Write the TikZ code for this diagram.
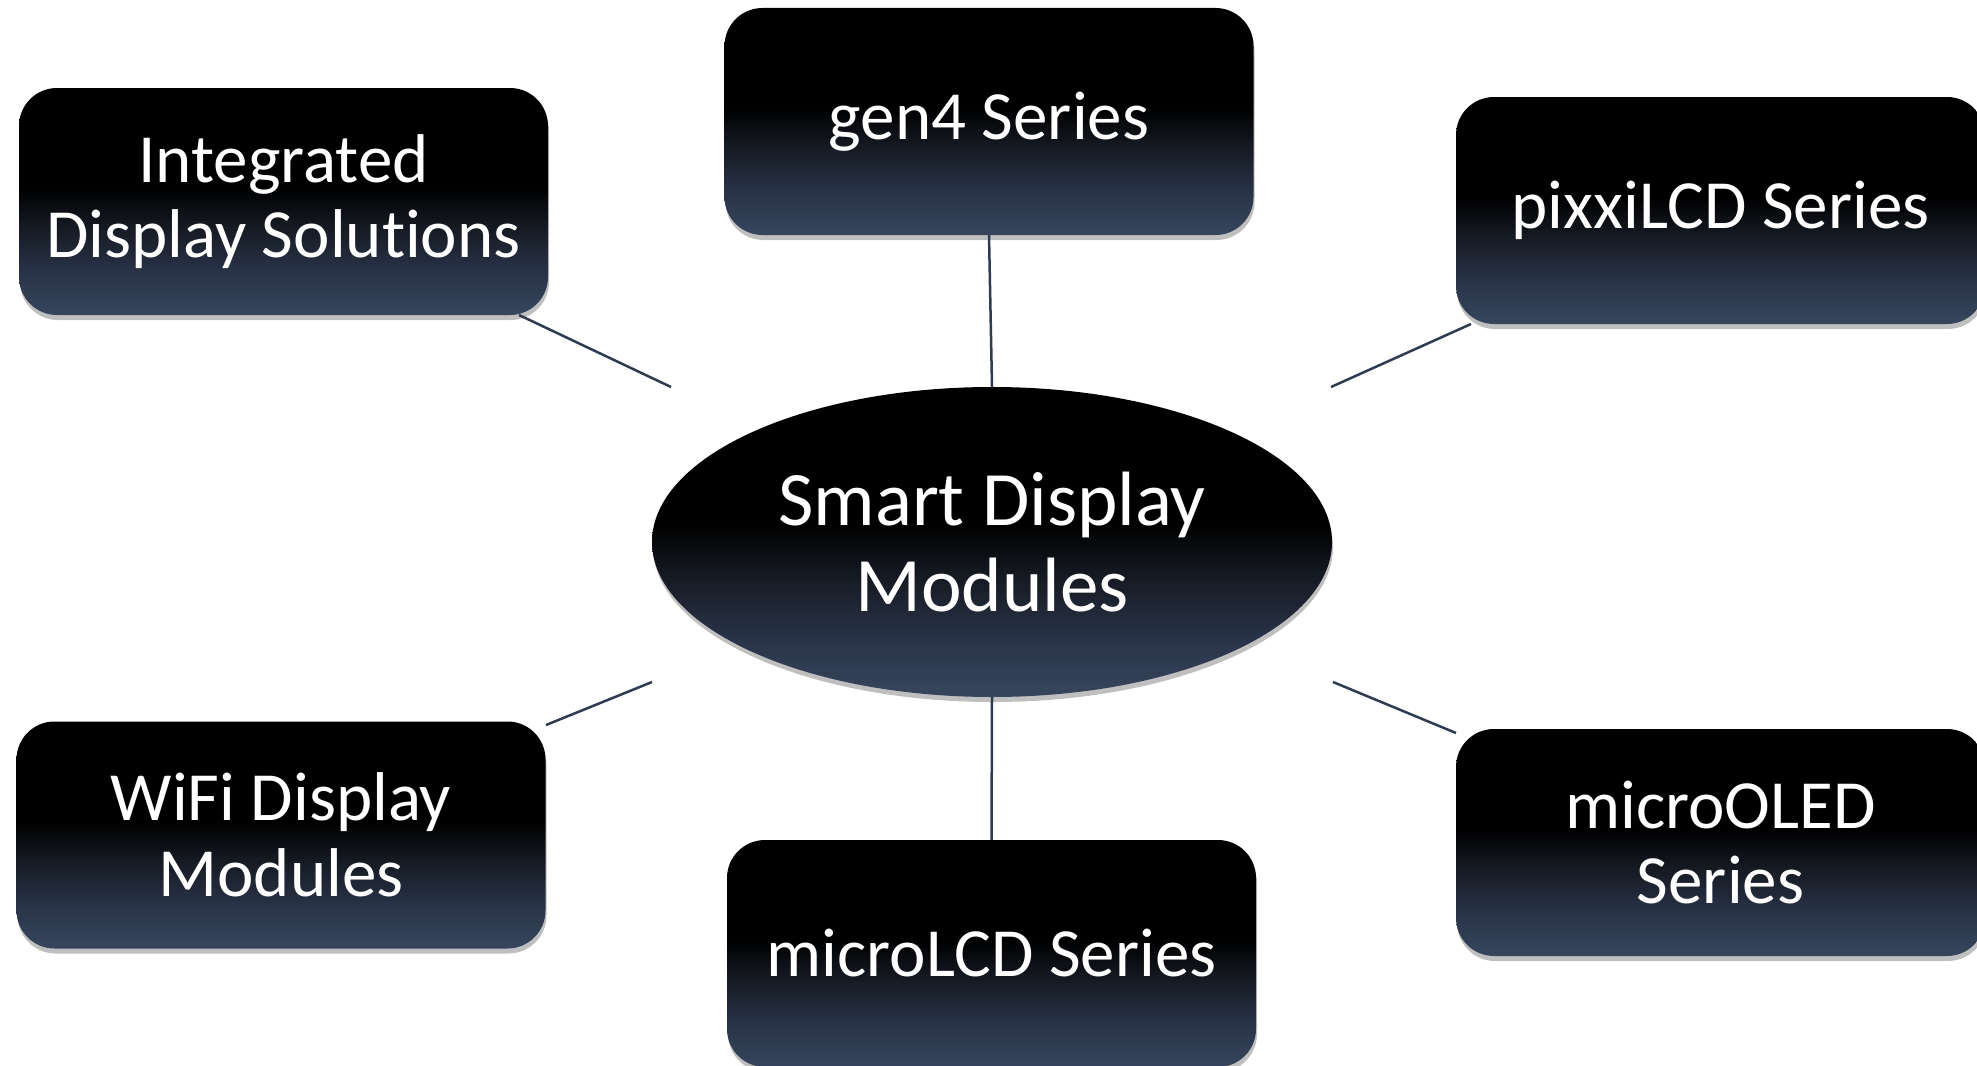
\documentclass[tikz,border=0pt]{standalone}
\usepackage{fontspec}
\setmainfont{Carlito}[Ligatures=NoCommon]
\usetikzlibrary{shapes.geometric,shadows}
\definecolor{navybot}{HTML}{37465E}
\definecolor{navymid}{HTML}{283246}
\definecolor{navydark}{HTML}{141820}
\definecolor{linecol}{HTML}{2E3B50}
\pgfdeclareverticalshading{boxshade}{100bp}{color(0bp)=(navybot); color(25bp)=(navybot); color(35bp)=(navymid); color(45bp)=(navydark); color(53bp)=(black); color(100bp)=(black)}
\tikzset{
  box/.style={rectangle, rounded corners=38pt, minimum width=529pt, minimum height=227pt,
    shading=boxshade, text=white, align=center, inner sep=0pt,
    font=\fontsize{69pt}{75.6pt}\selectfont,
    drop shadow={shadow xshift=1pt, shadow yshift=-5pt, opacity=0.25, fill=black}},
  hub/.style={ellipse, minimum width=680pt, minimum height=310pt, inner sep=0pt,
    shading=boxshade, text=white, align=center,
    font=\fontsize{77pt}{86.5pt}\selectfont,
    drop shadow={shadow xshift=1pt, shadow yshift=-5pt, opacity=0.25, fill=black}},
  conn/.style={draw=linecol, line width=2.5pt}
}
\begin{document}
\begin{tikzpicture}[x=1pt,y=-1pt]
\useasboundingbox (0,0) rectangle (1977,1065);
\clip (0,0) rectangle (1977,1065);
\fill[white] (0,0) rectangle (1977,1065);
\coordinate (cI) at (671,387);
\coordinate (cP) at (1331,387);
\coordinate (cW) at (652,682);
\coordinate (cO) at (1333,682);
\coordinate (bI) at (519,315);
\coordinate (bP) at (1471,324);
\coordinate (bW) at (546,725);
\coordinate (bO) at (1456,733);
\node[hub] (hub) at (992,542) {Smart Display\\Modules};
\node[box] (integ) at (283.5,201.5) {Integrated\\Display Solutions};
\node[box] (gen4) at (989,121.5) {gen4 Series};
\node[box] (pixxi) at (1720.5,210.5) {pixxiLCD Series};
\node[box] (wifi) at (281,835) {WiFi Display\\Modules};
\node[box] (mlcd) at (991.5,953.5) {microLCD Series};
\node[box] (moled) at (1720.5,842.5) {microOLED\\Series};
\draw[conn] (gen4.south) -- (hub.north);
\draw[conn] (mlcd.north) -- (hub.south);
\draw[conn] (bI) -- (cI);
\draw[conn] (bP) -- (cP);
\draw[conn] (bW) -- (cW);
\draw[conn] (bO) -- (cO);
\end{tikzpicture}
\end{document}
